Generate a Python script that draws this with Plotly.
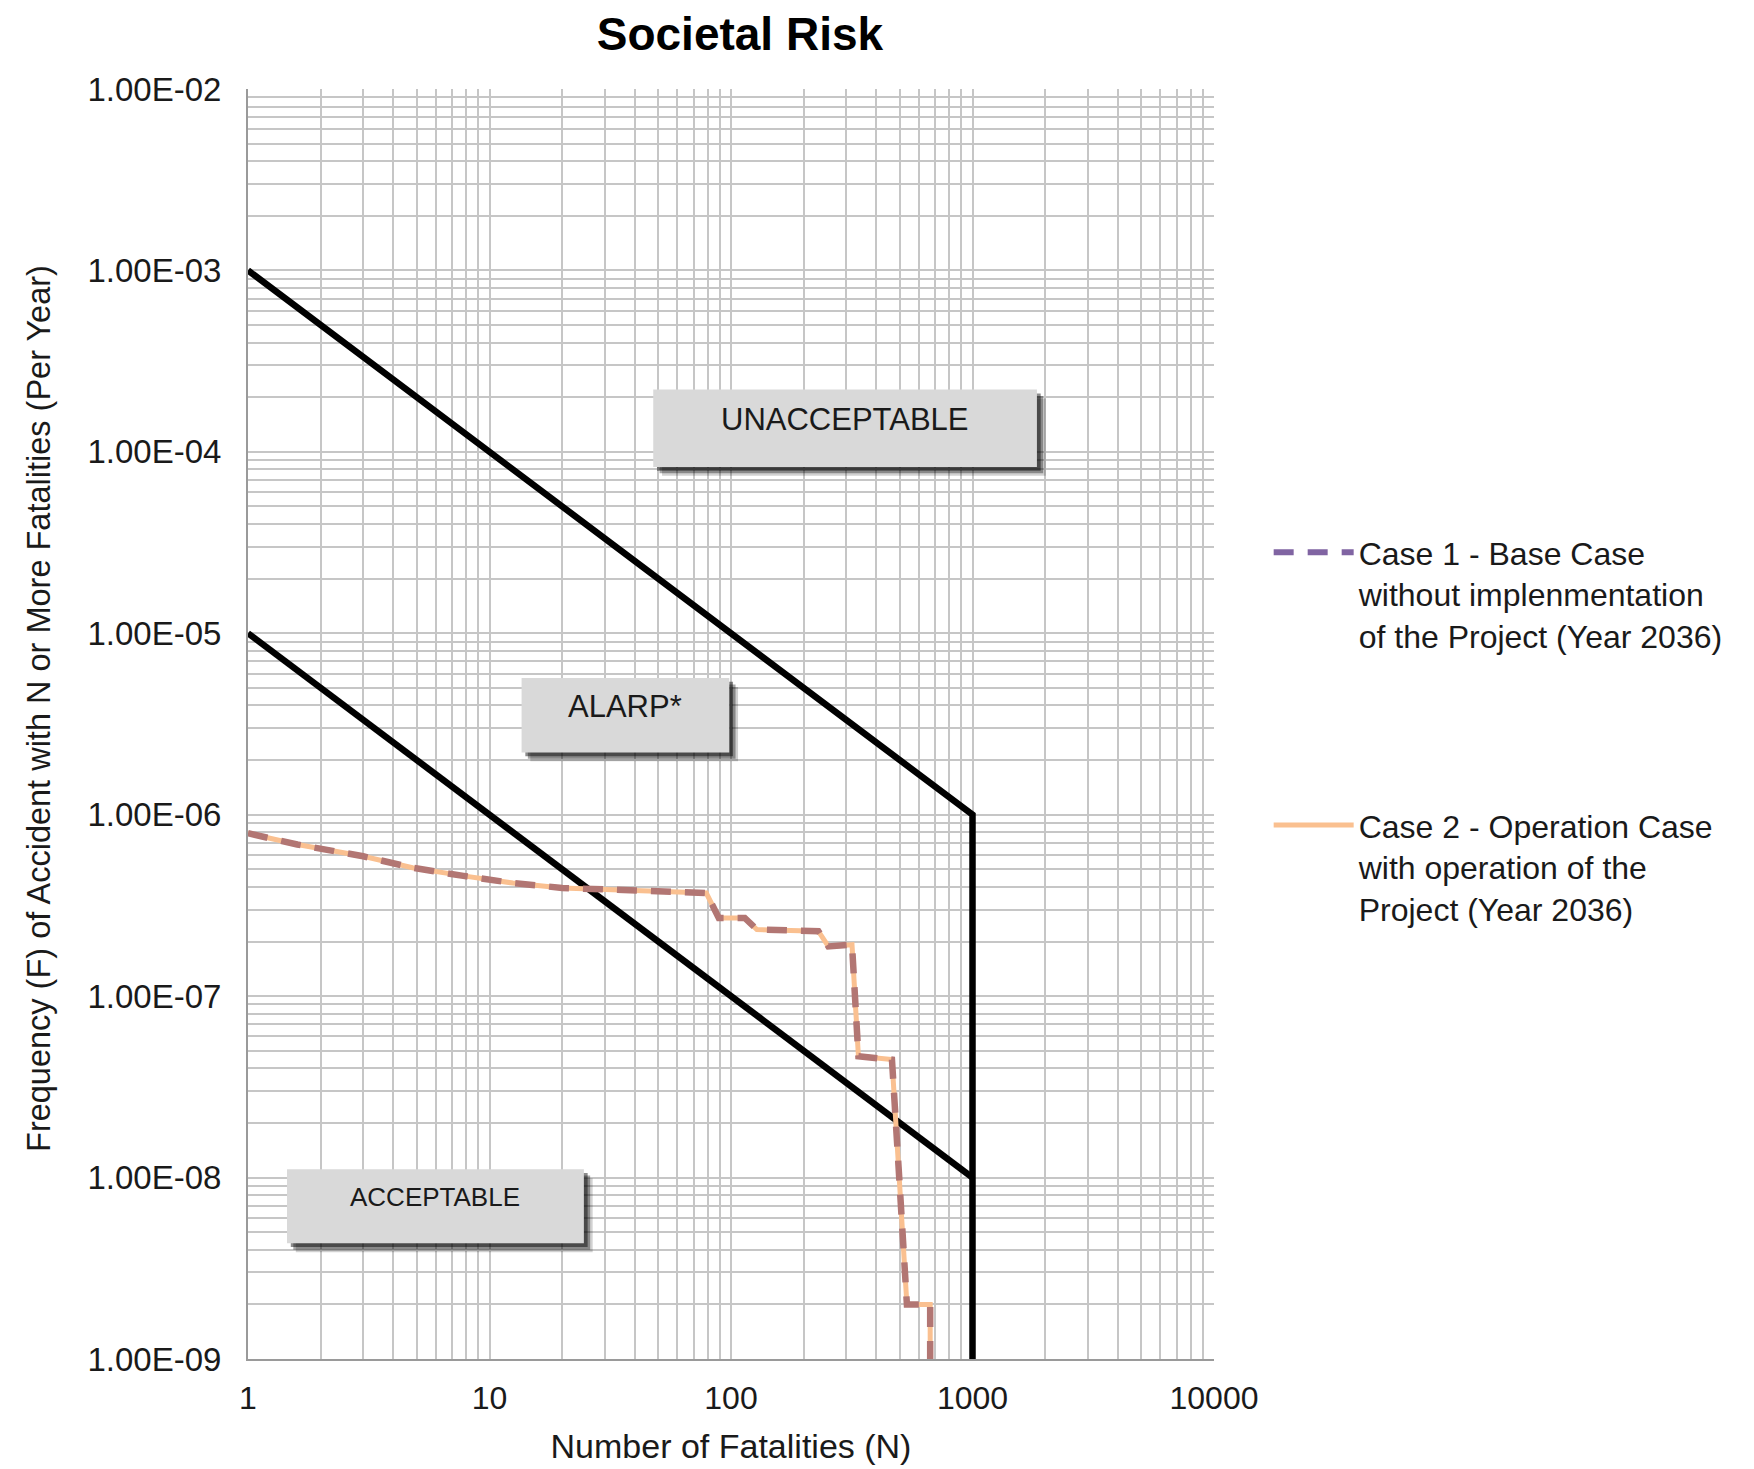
import plotly.graph_objects as go

# ---------------- data ----------------
x_tick_vals = [1, 10, 100, 1000, 10000]
x_tick_text = ["1", "10", "100", "1000", "10000"]
y_tick_vals = [1e-9, 1e-8, 1e-7, 1e-6, 1e-5, 1e-4, 1e-3, 1e-2]
y_tick_text = ["1.00E-09", "1.00E-08", "1.00E-07", "1.00E-06",
               "1.00E-05", "1.00E-04", "1.00E-03", "1.00E-02"]

# Criterion lines
upper_N = [1, 1000, 1000]
upper_F = [1e-3, 1e-6, 1e-9]
lower_N = [1, 1000]
lower_F = [1e-5, 1e-8]

# F-N curves (both cases overlap)
case1_N = [1, 1.6, 3.0, 4.8, 7.8, 12.5, 20, 29, 62, 79, 89, 114, 128, 230,
           253, 317, 337, 464, 494, 535, 668, 668]
case1_F = [7.9e-7, 6.85e-7, 5.9e-7, 5.1e-7, 4.6e-7, 4.2e-7, 3.95e-7, 3.87e-7,
           3.75e-7, 3.7e-7, 2.7e-7, 2.7e-7, 2.33e-7, 2.28e-7, 1.88e-7, 1.92e-7,
           4.66e-8, 4.47e-8, 1.15e-8, 2.0e-9, 2.0e-9, 5e-10]
case2_N = [1, 1.6, 3.0, 4.8, 7.8, 12.5, 20, 29, 62, 79, 89, 114, 128, 230,
           253, 317, 337, 464, 494, 535, 668, 668]
case2_F = [7.9e-7, 6.85e-7, 5.9e-7, 5.1e-7, 4.6e-7, 4.2e-7, 3.95e-7, 3.87e-7,
           3.75e-7, 3.7e-7, 2.7e-7, 2.7e-7, 2.33e-7, 2.28e-7, 1.88e-7, 1.92e-7,
           4.66e-8, 4.47e-8, 1.15e-8, 2.0e-9, 2.0e-9, 5e-10]

case1_name = "Case 1 - Base Case<br>without implenmentation<br>of the Project (Year 2036)"
case2_name = "Case 2 - Operation Case<br>with operation of the<br>Project (Year 2036)"
y_title = "Frequency (F) of Accident with N or More Fatalities (Per Year)"
x_title = "Number of Fatalities (N)"

# Region labels: (box x0, x1, y0, y1 in paper fractions, text x, text y)
region_labels = ["UNACCEPTABLE", "ALARP*", "ACCEPTABLE"]
region_font_sizes = [31, 31, 26]
region_boxes = [(0.4195, 0.8167, 0.7024, 0.7633, 0.6181, 0.7397),
                (0.2832, 0.4982, 0.4776, 0.5362, 0.3902, 0.5138),
                (0.0404, 0.3477, 0.0911, 0.1494, 0.1934, 0.1278)]

FONT = "Liberation Sans, Arial, sans-serif"
ORANGE = "#FAC090"
DASH_PLOT = "#B27673"
PURPLE = "#8064A2"

fig = go.Figure()

fig.add_trace(go.Scatter(x=upper_N, y=upper_F, mode="lines",
                         line=dict(color="black", width=6.5),
                         showlegend=False, hoverinfo="skip"))
fig.add_trace(go.Scatter(x=lower_N, y=lower_F, mode="lines",
                         line=dict(color="black", width=6.5),
                         showlegend=False, hoverinfo="skip"))

fig.add_trace(go.Scatter(x=case2_N, y=case2_F, mode="lines",
                         line=dict(color=ORANGE, width=5),
                         showlegend=False, name=case2_name))
fig.add_trace(go.Scatter(x=case1_N, y=case1_F, mode="lines",
                         line=dict(color=DASH_PLOT, width=6.5, dash="20px,14px"),
                         showlegend=False, name=case1_name))

# legend entries
fig.add_trace(go.Scatter(x=[None], y=[None], mode="lines",
                         line=dict(color=PURPLE, width=6, dash="20px,14px"),
                         name=case1_name, legendgroup="g1"))
fig.add_trace(go.Scatter(x=[None], y=[None], mode="lines",
                         line=dict(color=ORANGE, width=5),
                         name=case2_name, legendgroup="g2"))

shapes = []
annotations = []
dx, dy = 0.0065, 0.0050
for (lab, fs, (x0, x1, y0, y1, tx, ty)) in zip(region_labels, region_font_sizes, region_boxes):
    for k, op in [(1.4, 0.18), (1.0, 0.35), (0.6, 0.45)]:
        shapes.append(dict(type="rect", xref="paper", yref="paper",
                           x0=x0 + dx * k, x1=x1 + dx * k,
                           y0=y0 - dy * k, y1=y1 - dy * k,
                           fillcolor="black", opacity=op, line=dict(width=0),
                           layer="above"))
    shapes.append(dict(type="rect", xref="paper", yref="paper",
                       x0=x0, x1=x1, y0=y0, y1=y1,
                       fillcolor="#D9D9D9", line=dict(width=0), layer="above"))
    annotations.append(dict(text=lab, xref="paper", yref="paper", x=tx, y=ty,
                            showarrow=False, xanchor="center", yanchor="middle",
                            font=dict(family=FONT, size=fs, color="#1a1a1a")))

# y-axis title as rotated annotation
annotations.append(dict(text=y_title, xref="paper", yref="paper",
                        x=-0.2164, y=0.5126, textangle=-90,
                        showarrow=False, xanchor="center", yanchor="middle",
                        font=dict(family=FONT, size=32.5, color="#1a1a1a")))

minor_vals = [m * 10 ** e for e in range(-10, 5) for m in range(2, 10)]

fig.update_layout(
    width=1746, height=1461,
    paper_bgcolor="white", plot_bgcolor="white",
    margin=dict(l=240, r=540, t=81, b=110, autoexpand=False),
    title=dict(text="<b>Societal Risk</b>", x=0.4192, y=0.9822,
               xanchor="center", yanchor="middle", xref="container", yref="container",
               font=dict(family=FONT, size=46, color="black")),
    font=dict(family=FONT, color="#1a1a1a"),
    showlegend=True,
    legend=dict(x=1.0566, y=0.6567, xanchor="left", yanchor="top",
                traceorder="grouped", tracegroupgap=145, valign="top",
                itemwidth=80, bgcolor="rgba(0,0,0,0)",
                font=dict(family=FONT, size=32, color="#1a1a1a")),
    shapes=shapes, annotations=annotations,
)

fig.update_xaxes(type="log", range=[0, 4], automargin=False,
                 tickmode="array", tickvals=x_tick_vals, ticktext=x_tick_text,
                 tickfont=dict(family=FONT, size=32, color="#1a1a1a"),
                 ticks="", ticklabelstandoff=10,
                 showgrid=True, gridcolor="#C6C6C6", gridwidth=2,
                 minor=dict(tickmode="array", tickvals=minor_vals, showgrid=True,
                            gridcolor="#C6C6C6", gridwidth=2),
                 showline=True, linecolor="#9A9A9A", linewidth=2, mirror=False,
                 zeroline=False,
                 title=dict(text=x_title, standoff=19,
                            font=dict(family=FONT, size=34, color="#1a1a1a")))
fig.update_yaxes(type="log", range=[-9, -2], automargin=False,
                 tickmode="array", tickvals=y_tick_vals, ticktext=y_tick_text,
                 tickfont=dict(family=FONT, size=33, color="#1a1a1a"),
                 ticks="", ticklabelstandoff=18,
                 showgrid=True, gridcolor="#C6C6C6", gridwidth=2,
                 minor=dict(tickmode="array", tickvals=minor_vals, showgrid=True,
                            gridcolor="#C6C6C6", gridwidth=2),
                 showline=True, linecolor="#9A9A9A", linewidth=2, mirror=False,
                 zeroline=False)

fig.write_html("out.html")
